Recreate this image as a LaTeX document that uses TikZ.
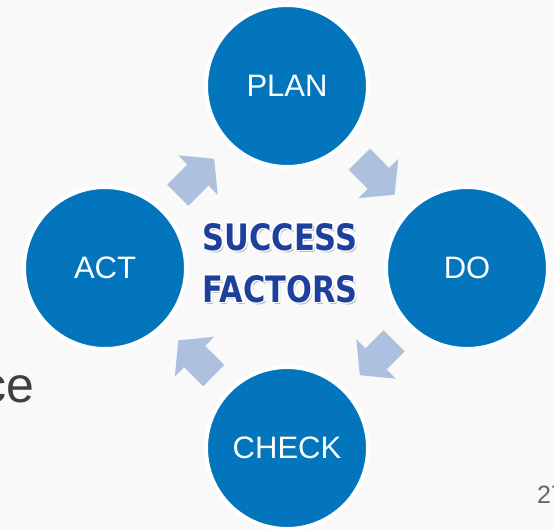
\documentclass[tikz,border=0pt]{standalone}
\usepackage{fontspec}
\usepackage{graphicx}
\setmainfont{Liberation Sans}
\newfontfamily\titlefont{DejaVu Sans}
\usetikzlibrary{arrows.meta,calc}

\definecolor{pdcaBlue}{RGB}{3,117,189}
\definecolor{flowBlue}{RGB}{173,192,222}
\definecolor{titleBlue}{RGB}{28,64,156}
\definecolor{pageGray}{RGB}{249,249,249}
\definecolor{noteGray}{RGB}{64,64,64}

\tikzset{
  stage/.style={circle, fill=pdcaBlue, draw=white, line width=4pt,
    minimum size=162pt, inner sep=0pt, text=white,
    font=\fontsize{31}{31}\selectfont},
  flow/.style={draw=flowBlue, line width=30pt,
    shorten <=20pt, shorten >=20pt,
    -{Triangle[width=56pt,length=23pt,line width=0pt]}},
  title/.style={inner sep=0pt, anchor=base}
}
\newcommand\titleword[1]{\resizebox{155pt}{27pt}{\titlefont\bfseries #1}}

\begin{document}
\begin{tikzpicture}[x=1pt, y=-1pt]
  \useasboundingbox (0,0) rectangle (554,530);
  \clip (0,0) rectangle (554,530);
  \fill[pageGray] (0,0) rectangle (554,530);

  % the four stages
  \node[stage] (plan) at (287,86) {PLAN};
  \node[stage] (do) at (467,268) {DO};
  \node[stage] (check) at (287,448) {CHECK};
  \node[stage] (act) at (105,268) {ACT};

  % cycle arrows
  \draw[flow] (act) -- (plan);
  \draw[flow] (plan) -- (do);
  \draw[flow] (do) -- (check);
  \draw[flow] (check) -- (act);

  % title: shadow, white halo, then the blue letters
  \foreach \word/\base in {SUCCESS/250, FACTORS/302} {
    \node[title, text=black, opacity=0.25] (shadow-\word) at (282,\base+2.5) {\titleword{\word}};
    \foreach \a in {0,45,...,315}
      \node[title, text=white] (halo-\word-\a) at ($(280,\base)+(\a:1.8)$) {\titleword{\word}};
    \node[title, text=titleBlue] (\word) at (280,\base) {\titleword{\word}};
  }

  % text running off the edges
  \node[anchor=base east, inner sep=0pt, text=noteGray,
    font=\fontsize{50}{50}\selectfont] (note) at (35,402) {ce};
  \node[anchor=base west, inner sep=0pt, text=noteGray!80,
    font=\fontsize{25}{25}\selectfont] (page) at (537,503) {27};
\end{tikzpicture}
\end{document}
